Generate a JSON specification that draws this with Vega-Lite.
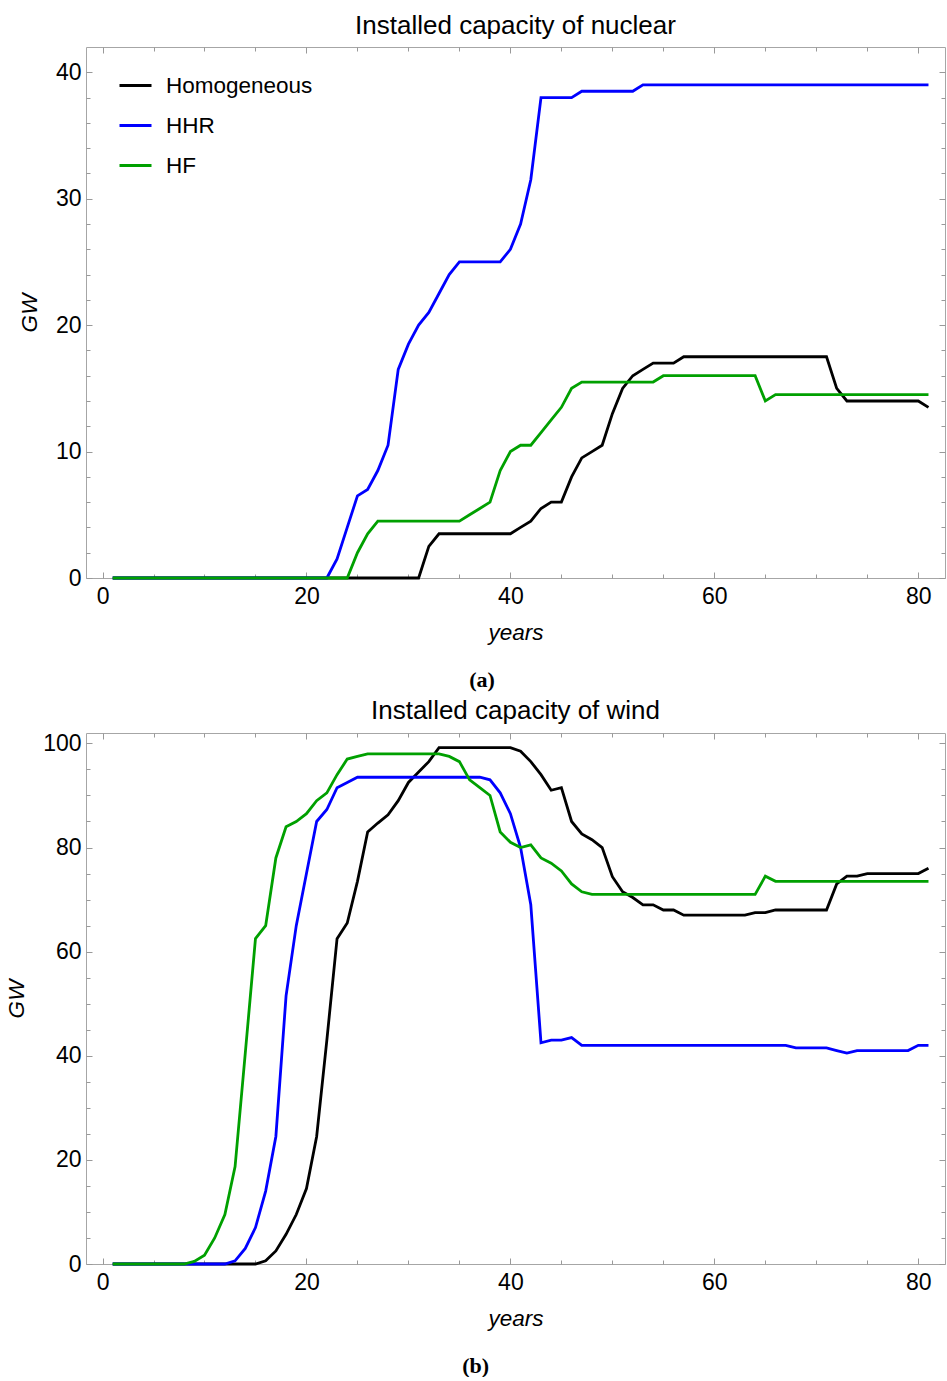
{
  "$schema": "https://vega.github.io/schema/vega-lite/v6.json",
  "description": "installed capacity of nuclear and wind",
  "padding": {"left": 5, "top": 12, "right": 0, "bottom": 0},
  "background": "white",
  "config": {
    "font": "Liberation Sans",
    "view": {"stroke": "#a6a6a6", "strokeWidth": 1},
    "axis": {"grid": false, "domain": false, "labelColor": "black", "labelFontSize": 23, "titleColor": "black", "titleFontSize": 22.5, "titleFontWeight": "normal", "titleFontStyle": "italic", "tickColor": "#999999", "tickWidth": 1},
    "title": {"fontSize": 26, "fontWeight": "normal", "color": "black", "offset": 8},
    "legend": {"labelFontSize": 22.5, "labelColor": "black"}
  },
  "datasets": {
    "nuclear": [
      {"year": 1, "Homogeneous": 0, "HHR": 0, "HF": 0},
      {"year": 2, "Homogeneous": 0, "HHR": 0, "HF": 0},
      {"year": 3, "Homogeneous": 0, "HHR": 0, "HF": 0},
      {"year": 4, "Homogeneous": 0, "HHR": 0, "HF": 0},
      {"year": 5, "Homogeneous": 0, "HHR": 0, "HF": 0},
      {"year": 6, "Homogeneous": 0, "HHR": 0, "HF": 0},
      {"year": 7, "Homogeneous": 0, "HHR": 0, "HF": 0},
      {"year": 8, "Homogeneous": 0, "HHR": 0, "HF": 0},
      {"year": 9, "Homogeneous": 0, "HHR": 0, "HF": 0},
      {"year": 10, "Homogeneous": 0, "HHR": 0, "HF": 0},
      {"year": 11, "Homogeneous": 0, "HHR": 0, "HF": 0},
      {"year": 12, "Homogeneous": 0, "HHR": 0, "HF": 0},
      {"year": 13, "Homogeneous": 0, "HHR": 0, "HF": 0},
      {"year": 14, "Homogeneous": 0, "HHR": 0, "HF": 0},
      {"year": 15, "Homogeneous": 0, "HHR": 0, "HF": 0},
      {"year": 16, "Homogeneous": 0, "HHR": 0, "HF": 0},
      {"year": 17, "Homogeneous": 0, "HHR": 0, "HF": 0},
      {"year": 18, "Homogeneous": 0, "HHR": 0, "HF": 0},
      {"year": 19, "Homogeneous": 0, "HHR": 0, "HF": 0},
      {"year": 20, "Homogeneous": 0, "HHR": 0, "HF": 0},
      {"year": 21, "Homogeneous": 0, "HHR": 0, "HF": 0},
      {"year": 22, "Homogeneous": 0, "HHR": 0, "HF": 0},
      {"year": 23, "Homogeneous": 0, "HHR": 1.5, "HF": 0},
      {"year": 24, "Homogeneous": 0, "HHR": 4, "HF": 0},
      {"year": 25, "Homogeneous": 0, "HHR": 6.5, "HF": 2},
      {"year": 26, "Homogeneous": 0, "HHR": 7, "HF": 3.5},
      {"year": 27, "Homogeneous": 0, "HHR": 8.5, "HF": 4.5},
      {"year": 28, "Homogeneous": 0, "HHR": 10.5, "HF": 4.5},
      {"year": 29, "Homogeneous": 0, "HHR": 16.5, "HF": 4.5},
      {"year": 30, "Homogeneous": 0, "HHR": 18.5, "HF": 4.5},
      {"year": 31, "Homogeneous": 0, "HHR": 20, "HF": 4.5},
      {"year": 32, "Homogeneous": 2.5, "HHR": 21, "HF": 4.5},
      {"year": 33, "Homogeneous": 3.5, "HHR": 22.5, "HF": 4.5},
      {"year": 34, "Homogeneous": 3.5, "HHR": 24, "HF": 4.5},
      {"year": 35, "Homogeneous": 3.5, "HHR": 25, "HF": 4.5},
      {"year": 36, "Homogeneous": 3.5, "HHR": 25, "HF": 5},
      {"year": 37, "Homogeneous": 3.5, "HHR": 25, "HF": 5.5},
      {"year": 38, "Homogeneous": 3.5, "HHR": 25, "HF": 6},
      {"year": 39, "Homogeneous": 3.5, "HHR": 25, "HF": 8.5},
      {"year": 40, "Homogeneous": 3.5, "HHR": 26, "HF": 10},
      {"year": 41, "Homogeneous": 4, "HHR": 28, "HF": 10.5},
      {"year": 42, "Homogeneous": 4.5, "HHR": 31.5, "HF": 10.5},
      {"year": 43, "Homogeneous": 5.5, "HHR": 38, "HF": 11.5},
      {"year": 44, "Homogeneous": 6, "HHR": 38, "HF": 12.5},
      {"year": 45, "Homogeneous": 6, "HHR": 38, "HF": 13.5},
      {"year": 46, "Homogeneous": 8, "HHR": 38, "HF": 15},
      {"year": 47, "Homogeneous": 9.5, "HHR": 38.5, "HF": 15.5},
      {"year": 48, "Homogeneous": 10, "HHR": 38.5, "HF": 15.5},
      {"year": 49, "Homogeneous": 10.5, "HHR": 38.5, "HF": 15.5},
      {"year": 50, "Homogeneous": 13, "HHR": 38.5, "HF": 15.5},
      {"year": 51, "Homogeneous": 15, "HHR": 38.5, "HF": 15.5},
      {"year": 52, "Homogeneous": 16, "HHR": 38.5, "HF": 15.5},
      {"year": 53, "Homogeneous": 16.5, "HHR": 39, "HF": 15.5},
      {"year": 54, "Homogeneous": 17, "HHR": 39, "HF": 15.5},
      {"year": 55, "Homogeneous": 17, "HHR": 39, "HF": 16},
      {"year": 56, "Homogeneous": 17, "HHR": 39, "HF": 16},
      {"year": 57, "Homogeneous": 17.5, "HHR": 39, "HF": 16},
      {"year": 58, "Homogeneous": 17.5, "HHR": 39, "HF": 16},
      {"year": 59, "Homogeneous": 17.5, "HHR": 39, "HF": 16},
      {"year": 60, "Homogeneous": 17.5, "HHR": 39, "HF": 16},
      {"year": 61, "Homogeneous": 17.5, "HHR": 39, "HF": 16},
      {"year": 62, "Homogeneous": 17.5, "HHR": 39, "HF": 16},
      {"year": 63, "Homogeneous": 17.5, "HHR": 39, "HF": 16},
      {"year": 64, "Homogeneous": 17.5, "HHR": 39, "HF": 16},
      {"year": 65, "Homogeneous": 17.5, "HHR": 39, "HF": 14},
      {"year": 66, "Homogeneous": 17.5, "HHR": 39, "HF": 14.5},
      {"year": 67, "Homogeneous": 17.5, "HHR": 39, "HF": 14.5},
      {"year": 68, "Homogeneous": 17.5, "HHR": 39, "HF": 14.5},
      {"year": 69, "Homogeneous": 17.5, "HHR": 39, "HF": 14.5},
      {"year": 70, "Homogeneous": 17.5, "HHR": 39, "HF": 14.5},
      {"year": 71, "Homogeneous": 17.5, "HHR": 39, "HF": 14.5},
      {"year": 72, "Homogeneous": 15, "HHR": 39, "HF": 14.5},
      {"year": 73, "Homogeneous": 14, "HHR": 39, "HF": 14.5},
      {"year": 74, "Homogeneous": 14, "HHR": 39, "HF": 14.5},
      {"year": 75, "Homogeneous": 14, "HHR": 39, "HF": 14.5},
      {"year": 76, "Homogeneous": 14, "HHR": 39, "HF": 14.5},
      {"year": 77, "Homogeneous": 14, "HHR": 39, "HF": 14.5},
      {"year": 78, "Homogeneous": 14, "HHR": 39, "HF": 14.5},
      {"year": 79, "Homogeneous": 14, "HHR": 39, "HF": 14.5},
      {"year": 80, "Homogeneous": 14, "HHR": 39, "HF": 14.5},
      {"year": 81, "Homogeneous": 13.5, "HHR": 39, "HF": 14.5}
    ],
    "wind": [
      {"year": 1, "Homogeneous": 0, "HHR": 0, "HF": 0},
      {"year": 2, "Homogeneous": 0, "HHR": 0, "HF": 0},
      {"year": 3, "Homogeneous": 0, "HHR": 0, "HF": 0},
      {"year": 4, "Homogeneous": 0, "HHR": 0, "HF": 0},
      {"year": 5, "Homogeneous": 0, "HHR": 0, "HF": 0},
      {"year": 6, "Homogeneous": 0, "HHR": 0, "HF": 0},
      {"year": 7, "Homogeneous": 0, "HHR": 0, "HF": 0},
      {"year": 8, "Homogeneous": 0, "HHR": 0, "HF": 0},
      {"year": 9, "Homogeneous": 0, "HHR": 0, "HF": 0.5},
      {"year": 10, "Homogeneous": 0, "HHR": 0, "HF": 1.7},
      {"year": 11, "Homogeneous": 0, "HHR": 0, "HF": 5},
      {"year": 12, "Homogeneous": 0, "HHR": 0, "HF": 9.5},
      {"year": 13, "Homogeneous": 0, "HHR": 0.6, "HF": 18.7},
      {"year": 14, "Homogeneous": 0, "HHR": 3, "HF": 40.5},
      {"year": 15, "Homogeneous": 0, "HHR": 7, "HF": 62.5},
      {"year": 16, "Homogeneous": 0.6, "HHR": 14, "HF": 65},
      {"year": 17, "Homogeneous": 2.5, "HHR": 24.5, "HF": 78},
      {"year": 18, "Homogeneous": 5.7, "HHR": 51.5, "HF": 84},
      {"year": 19, "Homogeneous": 9.5, "HHR": 65, "HF": 85},
      {"year": 20, "Homogeneous": 14.5, "HHR": 75, "HF": 86.5},
      {"year": 21, "Homogeneous": 24.5, "HHR": 85, "HF": 89},
      {"year": 22, "Homogeneous": 43, "HHR": 87.3, "HF": 90.5},
      {"year": 23, "Homogeneous": 62.5, "HHR": 91.5, "HF": 94},
      {"year": 24, "Homogeneous": 65.5, "HHR": 92.5, "HF": 97},
      {"year": 25, "Homogeneous": 73.5, "HHR": 93.5, "HF": 97.5},
      {"year": 26, "Homogeneous": 83, "HHR": 93.5, "HF": 98},
      {"year": 27, "Homogeneous": 84.7, "HHR": 93.5, "HF": 98},
      {"year": 28, "Homogeneous": 86.3, "HHR": 93.5, "HF": 98},
      {"year": 29, "Homogeneous": 89, "HHR": 93.5, "HF": 98},
      {"year": 30, "Homogeneous": 92.5, "HHR": 93.5, "HF": 98},
      {"year": 31, "Homogeneous": 94.5, "HHR": 93.5, "HF": 98},
      {"year": 32, "Homogeneous": 96.5, "HHR": 93.5, "HF": 98},
      {"year": 33, "Homogeneous": 99.2, "HHR": 93.5, "HF": 98},
      {"year": 34, "Homogeneous": 99.2, "HHR": 93.5, "HF": 97.5},
      {"year": 35, "Homogeneous": 99.2, "HHR": 93.5, "HF": 96.5},
      {"year": 36, "Homogeneous": 99.2, "HHR": 93.5, "HF": 93},
      {"year": 37, "Homogeneous": 99.2, "HHR": 93.5, "HF": 91.5},
      {"year": 38, "Homogeneous": 99.2, "HHR": 93, "HF": 90},
      {"year": 39, "Homogeneous": 99.2, "HHR": 90.5, "HF": 83},
      {"year": 40, "Homogeneous": 99.2, "HHR": 86.5, "HF": 81},
      {"year": 41, "Homogeneous": 98.5, "HHR": 80, "HF": 80},
      {"year": 42, "Homogeneous": 96.5, "HHR": 69, "HF": 80.5},
      {"year": 43, "Homogeneous": 94, "HHR": 42.5, "HF": 78},
      {"year": 44, "Homogeneous": 91, "HHR": 43, "HF": 77},
      {"year": 45, "Homogeneous": 91.5, "HHR": 43, "HF": 75.5},
      {"year": 46, "Homogeneous": 85, "HHR": 43.5, "HF": 73},
      {"year": 47, "Homogeneous": 82.6, "HHR": 42, "HF": 71.5},
      {"year": 48, "Homogeneous": 81.5, "HHR": 42, "HF": 71},
      {"year": 49, "Homogeneous": 80, "HHR": 42, "HF": 71},
      {"year": 50, "Homogeneous": 74.4, "HHR": 42, "HF": 71},
      {"year": 51, "Homogeneous": 71.5, "HHR": 42, "HF": 71},
      {"year": 52, "Homogeneous": 70.4, "HHR": 42, "HF": 71},
      {"year": 53, "Homogeneous": 69, "HHR": 42, "HF": 71},
      {"year": 54, "Homogeneous": 69, "HHR": 42, "HF": 71},
      {"year": 55, "Homogeneous": 68, "HHR": 42, "HF": 71},
      {"year": 56, "Homogeneous": 68, "HHR": 42, "HF": 71},
      {"year": 57, "Homogeneous": 67, "HHR": 42, "HF": 71},
      {"year": 58, "Homogeneous": 67, "HHR": 42, "HF": 71},
      {"year": 59, "Homogeneous": 67, "HHR": 42, "HF": 71},
      {"year": 60, "Homogeneous": 67, "HHR": 42, "HF": 71},
      {"year": 61, "Homogeneous": 67, "HHR": 42, "HF": 71},
      {"year": 62, "Homogeneous": 67, "HHR": 42, "HF": 71},
      {"year": 63, "Homogeneous": 67, "HHR": 42, "HF": 71},
      {"year": 64, "Homogeneous": 67.5, "HHR": 42, "HF": 71},
      {"year": 65, "Homogeneous": 67.5, "HHR": 42, "HF": 74.5},
      {"year": 66, "Homogeneous": 68, "HHR": 42, "HF": 73.5},
      {"year": 67, "Homogeneous": 68, "HHR": 42, "HF": 73.5},
      {"year": 68, "Homogeneous": 68, "HHR": 41.5, "HF": 73.5},
      {"year": 69, "Homogeneous": 68, "HHR": 41.5, "HF": 73.5},
      {"year": 70, "Homogeneous": 68, "HHR": 41.5, "HF": 73.5},
      {"year": 71, "Homogeneous": 68, "HHR": 41.5, "HF": 73.5},
      {"year": 72, "Homogeneous": 73, "HHR": 41, "HF": 73.5},
      {"year": 73, "Homogeneous": 74.5, "HHR": 40.5, "HF": 73.5},
      {"year": 74, "Homogeneous": 74.5, "HHR": 41, "HF": 73.5},
      {"year": 75, "Homogeneous": 75, "HHR": 41, "HF": 73.5},
      {"year": 76, "Homogeneous": 75, "HHR": 41, "HF": 73.5},
      {"year": 77, "Homogeneous": 75, "HHR": 41, "HF": 73.5},
      {"year": 78, "Homogeneous": 75, "HHR": 41, "HF": 73.5},
      {"year": 79, "Homogeneous": 75, "HHR": 41, "HF": 73.5},
      {"year": 80, "Homogeneous": 75, "HHR": 42, "HF": 73.5},
      {"year": 81, "Homogeneous": 76, "HHR": 42, "HF": 73.5}
    ]
  },
  "spacing": 6,
  "vconcat": [
    {
      "title": {"text": "(a)", "orient": "bottom", "anchor": "middle", "font": "Liberation Serif", "fontWeight": "bold", "fontSize": 22, "offset": 26},
      "vconcat": [
        {
          "width": 859,
          "height": 531,
          "title": "Installed capacity of nuclear",
          "data": {"name": "nuclear"},
          "transform": [{"fold": ["Homogeneous", "HHR", "HF"], "as": ["series", "gw"]}],
          "layer": [
            {
              "mark": {"type": "line", "strokeWidth": 2.8},
              "encoding": {
                "x": {"field": "year", "type": "quantitative", "scale": {"domain": [-1.62, 82.62], "nice": false, "zero": false},
                  "axis": {"orient": "bottom", "values": [0, 20, 40, 60, 80], "ticks": false, "labelPadding": 7, "title": "years", "titlePadding": 13}},
                "y": {"field": "gw", "type": "quantitative", "scale": {"domain": [0, 42], "nice": false},
                  "axis": {"orient": "left", "values": [0, 10, 20, 30, 40], "ticks": false, "labelPadding": 5, "title": "GW", "titlePadding": 14}},
                "color": {"field": "series", "type": "nominal",
                  "scale": {"domain": ["Homogeneous", "HHR", "HF"], "range": ["#000000", "#0000ff", "#00a000"]},
                  "legend": {"title": null, "orient": "none", "legendX": 32, "legendY": 21, "symbolType": "stroke", "symbolSize": 1024, "symbolStrokeWidth": 3, "labelOffset": 13, "rowPadding": 11}}
              }
            },
            {
              "mark": {"type": "line", "opacity": 0},
              "encoding": {
                "x": {"field": "year", "type": "quantitative", "axis": {"orient": "bottom", "values": [0, 20, 40, 60, 80], "labels": false, "title": null, "tickSize": -6}},
                "y": {"field": "gw", "type": "quantitative", "axis": {"orient": "left", "values": [0, 10, 20, 30, 40], "labels": false, "title": null, "tickSize": -6}}
              }
            },
            {
              "mark": {"type": "line", "opacity": 0},
              "encoding": {
                "x": {"field": "year", "type": "quantitative", "axis": {"orient": "bottom", "values": [5, 10, 15, 25, 30, 35, 45, 50, 55, 65, 70, 75], "labels": false, "title": null, "tickSize": -4}},
                "y": {"field": "gw", "type": "quantitative", "axis": {"orient": "left", "values": [2, 4, 6, 8, 12, 14, 16, 18, 22, 24, 26, 28, 32, 34, 36, 38], "labels": false, "title": null, "tickSize": -4}}
              }
            },
            {
              "mark": {"type": "line", "opacity": 0},
              "encoding": {
                "x": {"field": "year", "type": "quantitative", "axis": {"orient": "top", "values": [0, 20, 40, 60, 80], "labels": false, "title": null, "tickSize": -6}},
                "y": {"field": "gw", "type": "quantitative", "axis": {"orient": "right", "values": [0, 10, 20, 30, 40], "labels": false, "title": null, "tickSize": -6}}
              }
            },
            {
              "mark": {"type": "line", "opacity": 0},
              "encoding": {
                "x": {"field": "year", "type": "quantitative", "axis": {"orient": "top", "values": [5, 10, 15, 25, 30, 35, 45, 50, 55, 65, 70, 75], "labels": false, "title": null, "tickSize": -4}},
                "y": {"field": "gw", "type": "quantitative", "axis": {"orient": "right", "values": [2, 4, 6, 8, 12, 14, 16, 18, 22, 24, 26, 28, 32, 34, 36, 38], "labels": false, "title": null, "tickSize": -4}}
              }
            }
          ],
          "resolve": {"axis": {"x": "independent", "y": "independent"}}
        }
      ]
    },
    {
      "title": {"text": "(b)", "orient": "bottom", "anchor": "middle", "font": "Liberation Serif", "fontWeight": "bold", "fontSize": 22, "offset": 26},
      "vconcat": [
        {
          "width": 859,
          "height": 531,
          "title": "Installed capacity of wind",
          "data": {"name": "wind"},
          "transform": [{"fold": ["Homogeneous", "HHR", "HF"], "as": ["series", "gw"]}],
          "layer": [
            {
              "mark": {"type": "line", "strokeWidth": 2.8},
              "encoding": {
                "x": {"field": "year", "type": "quantitative", "scale": {"domain": [-1.62, 82.62], "nice": false, "zero": false},
                  "axis": {"orient": "bottom", "values": [0, 20, 40, 60, 80], "ticks": false, "labelPadding": 7, "title": "years", "titlePadding": 13}},
                "y": {"field": "gw", "type": "quantitative", "scale": {"domain": [0, 102], "nice": false},
                  "axis": {"orient": "left", "values": [0, 20, 40, 60, 80, 100], "ticks": false, "labelPadding": 5, "title": "GW", "titlePadding": 14}},
                "color": {"field": "series", "type": "nominal",
                  "scale": {"domain": ["Homogeneous", "HHR", "HF"], "range": ["#000000", "#0000ff", "#00a000"]},
                  "legend": {"title": null, "orient": "none", "legendX": 32, "legendY": 21, "symbolType": "stroke", "symbolSize": 1024, "symbolStrokeWidth": 3, "labelOffset": 13, "rowPadding": 11}}
              }
            },
            {
              "mark": {"type": "line", "opacity": 0},
              "encoding": {
                "x": {"field": "year", "type": "quantitative", "axis": {"orient": "bottom", "values": [0, 20, 40, 60, 80], "labels": false, "title": null, "tickSize": -6}},
                "y": {"field": "gw", "type": "quantitative", "axis": {"orient": "left", "values": [0, 20, 40, 60, 80, 100], "labels": false, "title": null, "tickSize": -6}}
              }
            },
            {
              "mark": {"type": "line", "opacity": 0},
              "encoding": {
                "x": {"field": "year", "type": "quantitative", "axis": {"orient": "bottom", "values": [5, 10, 15, 25, 30, 35, 45, 50, 55, 65, 70, 75], "labels": false, "title": null, "tickSize": -4}},
                "y": {"field": "gw", "type": "quantitative", "axis": {"orient": "left", "values": [5, 10, 15, 25, 30, 35, 45, 50, 55, 65, 70, 75, 85, 90, 95], "labels": false, "title": null, "tickSize": -4}}
              }
            },
            {
              "mark": {"type": "line", "opacity": 0},
              "encoding": {
                "x": {"field": "year", "type": "quantitative", "axis": {"orient": "top", "values": [0, 20, 40, 60, 80], "labels": false, "title": null, "tickSize": -6}},
                "y": {"field": "gw", "type": "quantitative", "axis": {"orient": "right", "values": [0, 20, 40, 60, 80, 100], "labels": false, "title": null, "tickSize": -6}}
              }
            },
            {
              "mark": {"type": "line", "opacity": 0},
              "encoding": {
                "x": {"field": "year", "type": "quantitative", "axis": {"orient": "top", "values": [5, 10, 15, 25, 30, 35, 45, 50, 55, 65, 70, 75], "labels": false, "title": null, "tickSize": -4}},
                "y": {"field": "gw", "type": "quantitative", "axis": {"orient": "right", "values": [5, 10, 15, 25, 30, 35, 45, 50, 55, 65, 70, 75, 85, 90, 95], "labels": false, "title": null, "tickSize": -4}}
              }
            }
          ],
          "resolve": {"axis": {"x": "independent", "y": "independent"}}
        }
      ]
    }
  ]
}
